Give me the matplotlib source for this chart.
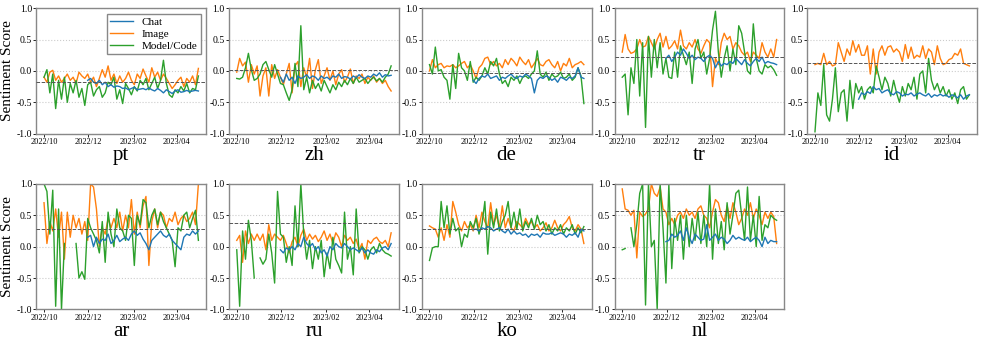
import numpy as np
import pandas as pd
import matplotlib
matplotlib.use('Agg')
import matplotlib.pyplot as plt
import matplotlib.dates as mdates

plt.rcParams['font.family'] = ['Liberation Serif', 'DejaVu Serif']

langs = ['pt', 'zh', 'de', 'tr', 'id', 'ar', 'ru', 'ko', 'nl']
ref_levels = [-0.17, 0.02, -0.04, 0.22, 0.13, 0.28, 0.38, 0.28, 0.56]
nan = np.nan

# Image (orange), every 4 days from 2022-10-01
image = {
    'pt': [-0.10,-0.18,-0.02,0.01,-0.15,-0.08,-0.18,-0.12,-0.05,-0.15,-0.10,-0.20,-0.02,-0.08,-0.12,-0.05,-0.18,-0.10,-0.25,-0.12,0.02,-0.10,0.08,-0.15,-0.05,-0.20,-0.08,-0.18,-0.12,-0.02,-0.15,-0.22,-0.05,-0.12,0.03,-0.08,-0.18,0.05,-0.10,-0.02,-0.15,-0.05,-0.12,-0.20,-0.28,-0.22,-0.15,-0.10,-0.25,-0.12,-0.18,-0.08,-0.22,0.04],
    'zh': [-0.02,0.20,0.08,0.14,-0.18,0.10,-0.05,0.08,-0.40,-0.08,0.05,-0.40,0.10,-0.12,0.02,-0.10,-0.22,-0.05,0.12,-0.35,0.08,0.15,-0.25,0.05,-0.10,0.20,-0.28,0.02,0.18,-0.20,-0.08,0.05,-0.15,0.00,-0.22,-0.05,0.02,-0.18,-0.10,0.03,-0.20,-0.08,-0.12,-0.05,-0.20,-0.10,-0.15,-0.08,-0.18,-0.12,-0.20,-0.15,-0.25,-0.32],
    'de': [0.00,0.18,0.05,0.10,0.12,0.05,0.08,0.07,0.10,0.05,0.08,0.12,0.15,0.05,0.10,0.00,-0.12,0.05,0.10,0.20,0.22,0.10,0.15,0.08,0.12,0.05,0.18,0.10,0.20,0.15,0.08,0.22,0.15,0.10,0.18,0.05,0.12,0.20,0.10,0.08,0.15,0.18,0.10,0.05,0.15,0.00,0.12,0.08,0.20,0.05,0.10,0.12,0.15,0.10],
    'tr': [0.30,0.58,0.35,0.28,0.30,0.35,0.50,0.38,0.40,0.55,0.45,0.35,0.50,0.60,0.38,0.55,0.35,0.40,0.48,0.35,0.65,0.40,0.35,0.45,0.38,0.50,0.35,0.28,0.40,0.50,0.45,-0.25,0.20,0.10,0.45,0.60,0.50,0.55,0.35,0.45,0.40,0.30,0.25,0.30,0.15,0.30,0.25,0.20,0.45,0.30,0.22,0.35,0.22,0.50],
    'id': [0.10,0.12,0.10,0.28,0.10,0.15,0.08,0.10,0.45,0.30,0.15,0.35,0.25,0.48,0.30,0.42,0.25,0.25,0.40,-0.05,0.35,-0.05,0.30,0.40,0.25,0.38,0.40,0.30,0.35,0.30,0.15,0.42,0.20,0.38,0.20,0.25,0.22,0.40,0.20,0.35,0.30,0.10,0.40,0.20,0.10,0.12,0.18,0.20,0.28,0.25,0.35,0.12,0.10,0.08],
    'ar': [0.70,0.05,0.40,0.25,0.60,0.15,0.55,-0.20,0.55,0.15,0.50,0.30,0.45,0.20,0.40,0.10,1.00,0.95,0.60,0.00,0.30,0.20,0.45,0.30,0.45,0.30,0.55,0.25,0.50,0.30,0.75,0.20,0.55,0.30,0.65,0.80,-0.30,0.40,0.60,0.30,0.55,0.50,0.30,0.45,0.40,0.55,0.35,0.45,0.50,0.40,0.45,0.55,0.35,1.00],
    'ru': [0.10,0.18,-0.25,0.25,0.05,0.20,0.10,0.20,0.10,0.20,-0.05,0.35,0.10,0.20,0.15,0.10,0.18,0.05,-0.10,0.08,0.15,0.00,0.18,0.28,0.10,0.20,0.12,0.18,0.08,0.15,0.25,0.10,0.20,0.05,0.22,0.15,0.00,0.18,0.10,0.15,0.05,0.12,-0.05,0.05,-0.20,0.10,0.05,0.12,0.15,0.08,0.05,0.10,0.00,0.22],
    'ko': [0.33,0.30,0.28,0.15,0.30,0.10,0.35,0.15,0.72,0.55,0.35,0.25,0.40,0.30,0.35,0.25,0.50,0.30,0.55,0.40,0.30,0.70,0.35,0.50,0.30,0.65,0.30,0.45,0.30,0.25,0.40,0.35,0.30,0.45,0.35,0.40,0.30,0.35,0.25,0.30,0.38,0.25,0.30,0.42,0.30,0.25,0.35,0.40,0.48,0.30,0.25,0.35,0.28,0.05],
    'nl': [0.92,0.60,0.58,0.50,0.58,-0.18,0.55,0.48,0.52,0.60,1.00,0.85,0.80,0.95,0.60,0.55,0.35,0.45,0.35,0.50,0.55,0.45,0.60,0.50,0.55,0.45,0.60,0.65,0.50,0.45,0.30,0.55,0.75,0.70,0.50,0.40,0.65,0.45,0.70,0.55,0.35,0.45,0.60,0.50,0.70,0.45,0.60,0.50,0.35,0.55,0.45,0.55,0.48,0.05],
}

# Model/Code (green), every 4 days from 2022-10-01
model = {
    'pt': [-0.10,0.02,-0.35,-0.05,-0.60,-0.15,-0.45,-0.10,-0.50,-0.20,-0.35,-0.15,-0.42,-0.28,-0.55,-0.22,-0.18,-0.40,-0.30,-0.25,-0.42,-0.35,-0.18,-0.22,-0.10,-0.45,-0.30,-0.52,-0.20,-0.28,-0.38,-0.25,-0.32,-0.15,-0.22,-0.12,-0.30,-0.20,-0.10,-0.28,-0.15,0.17,-0.20,-0.38,-0.42,-0.30,-0.35,-0.25,-0.32,-0.20,-0.35,-0.28,-0.30,-0.08],
    'zh': [-0.12,-0.13,-0.10,0.05,0.28,0.02,-0.15,-0.12,-0.05,0.10,0.15,0.02,-0.10,0.10,-0.05,-0.20,-0.22,-0.35,-0.47,-0.30,0.12,-0.25,0.72,-0.30,-0.10,-0.35,-0.15,-0.28,-0.20,-0.32,-0.15,-0.25,-0.35,-0.22,-0.30,-0.18,-0.25,-0.15,-0.22,-0.12,-0.20,-0.10,-0.18,-0.15,-0.12,-0.20,-0.14,-0.10,-0.16,-0.12,-0.18,-0.10,-0.05,0.08],
    'de': [0.10,-0.05,0.38,0.00,0.02,-0.10,-0.15,-0.45,0.10,-0.28,0.28,0.05,0.00,-0.15,0.15,-0.18,-0.10,-0.15,-0.08,0.05,-0.05,0.15,0.08,0.20,-0.05,-0.20,-0.15,-0.25,-0.10,-0.15,-0.08,-0.20,-0.10,-0.08,-0.12,-0.05,0.00,0.32,-0.05,-0.10,-0.02,-0.15,-0.05,-0.10,-0.08,-0.02,-0.12,-0.10,-0.05,-0.15,-0.10,0.05,-0.08,-0.52],
    'tr': [-0.10,-0.05,-0.70,0.05,-0.20,0.50,-0.40,0.45,-0.90,0.55,-0.10,0.50,0.05,0.45,-0.05,0.20,-0.10,-0.12,0.30,-0.10,0.40,0.25,0.10,0.30,-0.20,0.35,0.50,0.20,0.30,-0.05,0.20,0.65,0.95,0.30,-0.10,0.20,0.40,0.00,0.35,0.10,0.72,0.60,0.30,0.00,-0.05,0.75,0.20,0.00,-0.05,0.10,0.05,0.08,0.02,-0.07],
    'id': [-0.97,-0.35,-0.55,0.10,-0.70,-0.80,-0.45,0.05,-0.65,-0.35,-0.30,-0.80,-0.15,-0.60,-0.20,-0.35,-0.25,-0.45,-0.30,-0.25,-0.35,0.08,-0.10,-0.30,-0.10,-0.20,-0.40,-0.15,-0.35,-0.50,-0.25,-0.40,-0.20,-0.30,-0.10,-0.45,-0.05,0.00,-0.35,0.20,-0.15,-0.30,-0.20,-0.35,-0.25,-0.40,-0.30,-0.45,-0.35,-0.52,-0.30,-0.25,-0.45,-0.38],
    'ar': [1.00,0.88,0.20,0.90,-0.95,0.60,-1.00,0.05,nan,nan,nan,0.05,-0.50,-0.40,-0.52,0.45,0.30,0.20,0.10,-0.10,0.40,-0.25,0.55,0.20,0.00,0.60,0.30,0.25,0.10,0.50,0.45,-0.30,0.50,0.35,0.75,0.70,0.30,0.50,0.60,0.35,0.55,0.40,0.30,0.20,0.10,-0.32,0.30,0.25,0.50,0.55,0.30,0.45,0.58,0.10],
    'ru': [-0.05,-0.95,0.25,-0.20,0.42,0.10,-0.50,nan,-0.18,-0.28,-0.20,0.20,-0.10,-0.58,0.88,0.20,0.15,-0.25,0.00,-0.30,0.65,0.00,1.00,0.20,-0.20,0.10,-0.35,0.00,-0.20,0.10,-0.48,-0.10,-0.35,0.15,-0.20,-0.30,-0.42,0.55,-0.20,0.00,-0.45,0.60,-0.10,0.00,-0.05,-0.20,-0.05,0.00,-0.10,0.05,-0.05,-0.10,-0.12,-0.15],
    'ko': [-0.22,-0.02,0.00,0.00,0.72,0.30,0.65,0.20,0.45,0.25,0.30,0.00,0.20,0.15,0.40,0.30,0.45,0.20,0.35,0.72,-0.12,0.55,0.30,0.60,0.25,0.40,0.50,0.72,0.30,0.55,0.28,0.60,0.25,0.40,0.30,0.45,0.28,0.50,0.35,0.40,0.25,0.35,0.20,0.30,0.25,0.35,0.20,0.30,0.25,0.35,0.20,0.30,0.22,0.32],
    'nl': [-0.05,-0.03,nan,0.30,0.00,0.35,0.85,1.00,-0.93,1.00,0.00,0.10,-1.00,1.00,0.30,-0.58,1.00,-0.35,0.45,0.10,0.50,-0.20,0.50,0.00,0.45,0.10,0.55,0.05,0.50,0.00,1.00,-0.20,0.60,0.05,0.40,-0.05,0.70,0.20,0.50,0.85,0.90,0.50,0.10,0.95,0.10,0.50,0.00,0.80,0.10,0.35,0.30,0.50,0.45,0.42],
}

# Chat (blue), every 4 days from 2022-11-30
chat = {
    'pt': [-0.15,-0.12,-0.18,-0.20,-0.15,-0.22,-0.18,-0.25,-0.22,-0.26,-0.24,-0.25,-0.28,-0.27,-0.30,-0.28,-0.26,-0.30,-0.29,-0.28,-0.30,-0.27,-0.30,-0.32,-0.28,-0.31,-0.35,-0.30,-0.33,-0.36,-0.32,-0.30,-0.34,-0.33,-0.31,-0.33,-0.32,-0.31,-0.32],
    'zh': [-0.10,-0.18,-0.05,-0.15,-0.10,-0.20,-0.08,-0.12,-0.10,-0.06,-0.12,-0.08,-0.10,-0.15,-0.08,-0.12,-0.10,-0.14,-0.08,-0.10,-0.05,-0.12,-0.09,-0.10,-0.13,-0.08,-0.11,-0.06,-0.10,-0.12,-0.08,-0.10,-0.05,-0.08,-0.03,-0.10,-0.06,-0.08,-0.07],
    'de': [-0.15,-0.20,-0.12,-0.08,-0.10,-0.05,-0.12,-0.10,-0.08,-0.15,-0.10,-0.12,-0.08,-0.05,-0.10,-0.12,-0.08,-0.10,-0.05,-0.08,-0.12,-0.35,-0.15,-0.10,-0.12,-0.08,-0.10,-0.15,-0.12,-0.18,-0.10,-0.12,-0.15,-0.10,-0.12,-0.08,0.05,-0.10,-0.12],
    'tr': [0.20,0.25,0.15,0.22,0.30,0.25,0.35,0.28,0.20,0.25,0.18,0.22,0.20,0.15,0.22,0.25,0.20,0.05,0.15,0.08,0.12,0.10,0.15,0.12,0.20,0.15,0.10,0.18,0.12,0.08,0.15,0.20,0.15,0.22,0.12,0.15,0.13,0.12,0.10],
    'id': [-0.45,-0.35,-0.38,-0.33,-0.36,-0.25,-0.30,-0.28,-0.35,-0.32,-0.30,-0.36,-0.38,-0.33,-0.35,-0.40,-0.37,-0.38,-0.35,-0.40,-0.37,-0.35,-0.38,-0.40,-0.36,-0.42,-0.38,-0.40,-0.37,-0.40,-0.38,-0.42,-0.38,-0.40,-0.43,-0.38,-0.45,-0.40,-0.38],
    'ar': [0.15,0.18,0.00,0.15,0.05,0.12,0.10,0.20,0.05,0.10,0.18,0.08,0.12,0.15,0.10,0.20,0.25,0.18,0.22,0.12,0.05,-0.05,0.10,0.15,0.20,0.25,0.18,0.15,0.20,0.10,0.05,0.00,-0.05,0.15,0.20,0.18,0.25,0.20,0.25],
    'ru': [-0.05,-0.10,-0.02,-0.05,0.00,-0.05,0.05,0.00,0.15,0.05,0.00,0.05,-0.05,0.00,-0.10,-0.05,-0.15,0.00,-0.05,0.05,0.00,-0.02,0.05,0.00,-0.05,-0.02,-0.05,-0.08,-0.02,-0.10,-0.05,-0.10,-0.12,-0.05,-0.08,-0.02,0.00,-0.05,0.05],
    'ko': [0.27,0.28,0.25,0.30,0.28,0.32,0.30,0.25,0.28,0.30,0.25,0.22,0.28,0.20,0.25,0.20,0.22,0.18,0.20,0.15,0.20,0.18,0.20,0.15,0.22,0.20,0.20,0.22,0.18,0.20,0.22,0.20,0.15,0.20,0.18,0.22,0.15,0.28,0.25],
    'nl': [0.08,0.10,0.20,0.15,0.18,0.25,0.10,0.30,0.15,0.05,0.20,0.15,0.10,0.12,0.35,0.10,0.15,0.20,0.10,0.15,0.12,0.05,0.10,0.18,0.12,0.15,0.12,0.10,0.15,0.08,0.12,0.15,0.10,0.00,0.15,0.05,0.10,0.08,0.08],
}


def lang_plot(ax, lang, level, ylabel=False, legend=False):
    x_full = pd.date_range('2022-10-01', periods=len(image[lang]), freq='4D')
    x_model = pd.date_range('2022-10-01', periods=len(model[lang]), freq='4D')
    x_chat = pd.date_range('2022-11-30', periods=len(chat[lang]), freq='4D')
    # 网格线
    ax.yaxis.grid(True, linestyle=':', color='#cccccc', linewidth=0.8, zorder=0)
    ax.plot(x_chat, chat[lang], color='#1f77b4', linewidth=1.0, label='Chat', zorder=3)
    ax.plot(x_full, image[lang], color='#ff7f0e', linewidth=1.0, label='Image', zorder=2)
    ax.plot(x_model, model[lang], color='#2ca02c', linewidth=1.0, label='Model/Code', zorder=2)
    ax.axhline(level, color='#555555', linestyle='--', linewidth=0.7, zorder=4)
    ax.set_ylim(-1, 1)
    ax.set_yticks([-1.0, -0.5, 0.0, 0.5, 1.0])
    ax.yaxis.set_major_formatter(plt.FormatStrFormatter('%.1f'))
    ax.xaxis.set_major_locator(mdates.MonthLocator(bymonth=(2, 4, 10, 12)))
    ax.xaxis.set_major_formatter(mdates.DateFormatter('%Y/%m'))
    ax.tick_params(axis='y', labelsize=7, length=2, width=0.6, pad=1)
    ax.tick_params(axis='x', labelsize=6, length=2, width=0.6, pad=1)
    for s in ax.spines.values():
        s.set_color('#888888')
        s.set_linewidth(1.0)
    ax.set_xlabel(lang, fontsize=15, labelpad=0)
    if ylabel:
        ax.set_ylabel('Sentiment Score', fontsize=11, labelpad=2)
    if legend:
        ax.legend(loc='upper right', fontsize=8, edgecolor='#888888', fancybox=False,
                  framealpha=1, handlelength=2.0, borderpad=0.3, labelspacing=0.2)


fig, axes = plt.subplots(2, 5, figsize=(9.81, 3.40), dpi=100, facecolor='white')
fig.subplots_adjust(left=0.037, right=0.996, top=0.976, bottom=0.09, wspace=0.135, hspace=0.40)
axs = axes.flatten()
for i, lang in enumerate(langs):
    lang_plot(axs[i], lang, ref_levels[i], ylabel=(i % 5 == 0), legend=(i == 0))
axs[-1].axis('off')

plt.savefig('out.png', dpi=100, facecolor='white')
